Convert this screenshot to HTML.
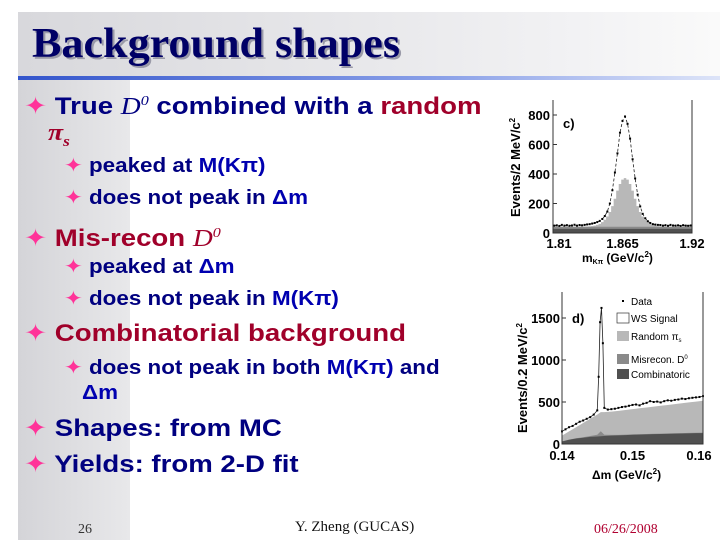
<!DOCTYPE html>
<html><head><meta charset="utf-8"><style>
body{margin:0;width:720px;height:540px;overflow:hidden;background:#fff;position:relative;font-family:"Liberation Sans",sans-serif}
.l{position:absolute;white-space:nowrap;font-weight:bold;color:#000080;transform-origin:0 50%}
.b1{font-size:24px;line-height:26px;transform:scaleX(1.15)}
.b2{font-size:20px;line-height:22px;transform:scaleX(1.12)}
.st{color:#ff3399;font-weight:normal}
.r{color:#a0002a}
.bl{color:#0000b0}
.ser{font-family:"Liberation Serif",serif;font-style:italic;font-weight:normal}
</style></head><body>
<div style="position:absolute;left:18px;top:12px;width:112px;height:528px;background:linear-gradient(90deg,#d4d4d8,#e8e8ea)"></div>
<div style="position:absolute;left:18px;top:12px;width:702px;height:64px;background:linear-gradient(90deg,#d8d8dc,#f2f2f4 80%,#fafafa)"></div>
<div style="position:absolute;left:18px;top:76px;width:702px;height:4px;background:linear-gradient(90deg,#3355cc,#8aa0e8 60%,#dde4f8)"></div>
<div class="l" style="left:32px;top:20px;font-family:'Liberation Serif',serif;font-size:42px;line-height:48px;color:#000066;text-shadow:2px 2px 0 #9a9aa8;transform:scaleX(1.05)">Background shapes</div>

<div class="l b1" style="left:24px;top:89px"><span class="st">✦</span> True <span class="ser">D<sup style="font-size:14px">0</sup></span> combined with a <span class="r">random</span></div>
<div class="l b1 r" style="left:48px;top:120px"><span class="ser" style="font-weight:bold">π<sub style="font-size:15px">s</sub></span></div>
<div class="l b2" style="left:64px;top:155px"><span class="st">✦</span> peaked at <span class="bl">M(Kπ)</span></div>
<div class="l b2" style="left:64px;top:187px"><span class="st">✦</span> does not peak in <span class="bl">Δm</span></div>
<div class="l b1 r" style="left:24px;top:221px"><span class="st">✦</span> Mis-recon <span class="ser">D<sup style="font-size:14px">0</sup></span></div>
<div class="l b2" style="left:64px;top:256px"><span class="st">✦</span> peaked at <span class="bl">Δm</span></div>
<div class="l b2" style="left:64px;top:288px"><span class="st">✦</span> does not peak in <span class="bl">M(Kπ)</span></div>
<div class="l b1 r" style="left:24px;top:321px"><span class="st">✦</span> Combinatorial background</div>
<div class="l b2" style="left:64px;top:357px"><span class="st">✦</span> does not peak in both <span class="bl">M(Kπ)</span> and</div>
<div class="l b2 bl" style="left:82px;top:382px">Δm</div>
<div class="l b1" style="left:24px;top:416px"><span class="st">✦</span> Shapes: from MC</div>
<div class="l b1" style="left:24px;top:452px"><span class="st">✦</span> Yields: from 2-D fit</div>

<div class="l" style="left:78px;top:522px;font-family:'Liberation Serif',serif;font-weight:normal;font-size:14px;color:#333">26</div>
<div class="l" style="left:295px;top:519px;font-family:'Liberation Serif',serif;font-weight:normal;font-size:15px;color:#111">Y. Zheng (GUCAS)</div>
<div class="l" style="left:594px;top:522px;font-family:'Liberation Serif',serif;font-weight:normal;font-size:14px;color:#b00030">06/26/2008</div>

<svg id="svg" width="720" height="540" style="position:absolute;left:0;top:0"></svg>
<script>
// Chart c: M(Kpi), 2 MeV bins
const cBinStart = 1.81, cBinWidth = 0.002;
const cCombo = [28,28,28,28,28,28,28,28,28,28,28,28,28,28,28,28,28,28,28,28,28,28,28,28,28,28,28,28,28,28,28,28,28,28,28,28,28,28,28,28,28,28,28,28,28,28,28,28,28,28,28,28,28,28,28];
const cMis = [14,14,14,14,14,14,14,14,14,14,14,14,14,14,14,14,14,14,14,14,14,14,14,14,14,14,14,14,14,14,14,14,14,14,14,14,14,14,14,14,14,14,14,14,14,14,14,14,14,14,14,14,14,14,14];
const cRand = [1,1,1,1,1,1,1,1,1,1,1,1,1,2,3,5,8,13,20,32,48,70,100,140,190,245,290,320,330,320,290,245,190,140,100,70,48,32,20,13,8,5,3,2,1,1,1,1,1,1,1,1,1,1,1];
const cData = [50,52,48,55,50,53,49,51,56,50,54,52,55,58,60,64,68,74,82,95,115,145,200,290,410,540,680,760,790,740,640,500,370,260,180,130,100,80,68,60,57,55,54,50,53,49,55,51,50,52,48,53,50,49,51];
const cYTicks = [0,200,400,600,800];
const cXTicks = ["1.81","1.865","1.92"];
// Chart d: delta m
const dX = [0.140,0.141,0.142,0.143,0.144,0.145,0.1455,0.146,0.147,0.148,0.149,0.150,0.151,0.152,0.153,0.154,0.155,0.156,0.157,0.158,0.159,0.160];
const dCombo = [30,50,65,75,85,90,92,95,100,103,106,110,112,114,117,119,121,123,125,127,129,130];
const dMis = [0,2,4,6,10,20,60,15,8,6,5,5,5,5,5,5,5,5,5,5,5,5];
const dRand = [100,150,200,250,300,350,380,380,385,395,405,415,425,435,445,455,465,475,485,495,505,515];
const dDataX = [0.1400,0.1405,0.1410,0.1415,0.1420,0.1425,0.1430,0.1435,0.1440,0.1445,0.1450,0.1452,0.1454,0.1456,0.1458,0.1460,0.1465,0.1470,0.1475,0.1480,0.1485,0.1490,0.1495,0.1500,0.1505,0.1510,0.1515,0.1520,0.1525,0.1530,0.1535,0.1540,0.1545,0.1550,0.1555,0.1560,0.1565,0.1570,0.1575,0.1580,0.1585,0.1590,0.1595,0.1600];
const dData = [150,175,200,215,240,265,280,300,320,350,400,800,1450,1620,1200,430,410,415,420,430,440,445,455,465,470,460,480,490,510,500,505,495,510,520,515,525,530,540,535,545,550,555,560,570];
const dYTicks = [0,500,1000,1500];
const dXTicks = ["0.14","0.15","0.16"];
const dLegend = ["Data","WS Signal","Random π","Misrecon. D","Combinatoric"];

const NS="http://www.w3.org/2000/svg", svg=document.getElementById('svg');
function mk(t,a,p){const e=document.createElementNS(NS,t);for(const k in a)e.setAttribute(k,a[k]);(p||svg).appendChild(e);return e;}
// ---- chart c
const c={x0:553,x1:692,y0:233,y1:100};
const cx=v=>c.x0+(v-1.81)/(1.92-1.81)*(c.x1-c.x0);
const cy=v=>c.y0-v*(118/800);
const gc=mk('g',{});
function stackPath(arr,base){let d='';for(let i=0;i<arr.length;i++){const xa=cx(cBinStart+i*cBinWidth),xb=cx(cBinStart+(i+1)*cBinWidth);const v=Math.min(arr[i]+base[i],900);d+=(i?'L':'M')+xa+','+cy(v)+'L'+xb+','+cy(v);}return d+'L'+c.x1+','+c.y0+'L'+c.x0+','+c.y0+'Z';}
const zero=cCombo.map(()=>0);
const s2=cCombo.map((v,i)=>v+cMis[i]);
let e;
e=mk('path',{d:stackPath(cRand,s2),fill:'#b8b8b8'},gc);
e=mk('path',{d:stackPath(cMis,cCombo),fill:'#8a8a8a'},gc);
e=mk('path',{d:stackPath(cCombo,zero),fill:'#505050'},gc);
let pl=cData.map((v,i)=>cx(cBinStart+(i+.5)*cBinWidth)+','+cy(v)).join(' ');
e=mk('polyline',{points:pl,fill:'none',stroke:'#222','stroke-width':0.8,'stroke-dasharray':'3,2'},gc);
cData.forEach((v,i)=>{const p=mk('rect',{x:cx(cBinStart+(i+.5)*cBinWidth)-1,y:cy(v)-1,width:2,height:2,fill:'#000'},gc);});
e=mk('path',{d:`M${c.x0},${c.y1}V${c.y0}H${c.x1}V${c.y1}`,fill:'none',stroke:'#333','stroke-width':1},gc);
cYTicks.forEach(v=>{const t=mk('text',{x:c.x0-3,y:cy(v)+5,'text-anchor':'end','font-size':13,'font-weight':'bold','font-family':'Liberation Sans'},gc);t.textContent=v;mk('line',{x1:c.x0,x2:c.x0+4,y1:cy(v),y2:cy(v),stroke:'#333'},gc);});
[1.81,1.865,1.92].forEach((v,i)=>{const t=mk('text',{x:cx(v)+(i==0?6:0),y:c.y0+15,'text-anchor':'middle','font-size':13,'font-weight':'bold','font-family':'Liberation Sans'},gc);t.textContent=cXTicks[i];});
e=mk('text',{x:582,y:262,'font-size':12,'font-weight':'bold','font-family':'Liberation Sans'},gc);e.innerHTML='m<tspan font-size="7" dy="2">Kπ</tspan><tspan dy="-2"> (GeV/c</tspan><tspan font-size="8" dy="-5">2</tspan><tspan dy="5">)</tspan>';
e=mk('text',{x:0,y:0,transform:'translate(520,217) rotate(-90)','font-size':13,'font-weight':'bold','font-family':'Liberation Sans'},gc);e.innerHTML='Events/2 MeV/c<tspan font-size="8" dy="-5">2</tspan>';
e=mk('text',{x:563,y:128,'font-size':13,'font-weight':'bold','font-family':'Liberation Sans'},gc);e.textContent='c)';
// ---- chart d
const d={x0:562,x1:703,y0:444,y1:292};
const dx=v=>d.x0+(v-0.14)/0.02*(d.x1-d.x0);
const dy=v=>d.y0-v*(126/1500);
const gd=mk('g',{});
function area(top,bot){let s='M'+dX.map((x,i)=>dx(x)+','+dy(top[i])).join('L');for(let i=dX.length-1;i>=0;i--)s+='L'+dx(dX[i])+','+dy(bot[i]);return s+'Z';}
const dz=dX.map(()=>0), dCM=dCombo.map((v,i)=>v+dMis[i]);
e=mk('path',{d:area(dRand,dz),fill:'#b8b8b8'},gd);
e=mk('path',{d:area(dCM,dz),fill:'#8a8a8a'},gd);
e=mk('path',{d:area(dCombo,dz),fill:'#505050'},gd);
e=mk('polyline',{points:dDataX.map((x,i)=>dx(x)+','+dy(dData[i])).join(' '),fill:'none',stroke:'#222','stroke-width':0.8},gd);
dDataX.forEach((x,i)=>{const p=mk('rect',{x:dx(x)-1,y:dy(dData[i])-1,width:2,height:2,fill:'#000'},gd);});
e=mk('path',{d:`M${d.x0},${d.y1}V${d.y0}H${d.x1}V${d.y1}`,fill:'none',stroke:'#333'},gd);
dYTicks.forEach(v=>{const t=mk('text',{x:d.x0-2,y:dy(v)+5,'text-anchor':'end','font-size':13,'font-weight':'bold','font-family':'Liberation Sans'},gd);t.textContent=v;mk('line',{x1:d.x0,x2:d.x0+4,y1:dy(v),y2:dy(v),stroke:'#333'},gd);});
[0.14,0.15,0.16].forEach((v,i)=>{const t=mk('text',{x:dx(v)+(i==2?-4:0),y:d.y0+16,'text-anchor':'middle','font-size':13,'font-weight':'bold','font-family':'Liberation Sans'},gd);t.textContent=dXTicks[i];});
e=mk('text',{x:592,y:479,'font-size':12,'font-weight':'bold','font-family':'Liberation Sans'},gd);e.innerHTML='Δm (GeV/c<tspan font-size="8" dy="-5">2</tspan><tspan dy="5">)</tspan>';
e=mk('text',{x:0,y:0,transform:'translate(527,433) rotate(-90)','font-size':13,'font-weight':'bold','font-family':'Liberation Sans'},gd);e.innerHTML='Events/0.2 MeV/c<tspan font-size="8" dy="-5">2</tspan>';
e=mk('text',{x:572,y:323,'font-size':13,'font-weight':'bold','font-family':'Liberation Sans'},gd);e.textContent='d)';
const legY=[301,318,336,359,374], legFill=[null,'#fff','#b8b8b8','#8a8a8a','#505050'];
dLegend.forEach((s,i)=>{
 if(i==0){const p=mk('rect',{x:622,y:legY[i]-1,width:2,height:2,fill:'#000'},gd);}
 else{const p=mk('rect',{x:617,y:legY[i]-5,width:12,height:10,fill:legFill[i],stroke:i==1?'#333':'none','stroke-width':0.7},gd);}
 const t=mk('text',{x:631,y:legY[i]+4,'font-size':10,'font-family':'Liberation Sans'},gd);t.textContent=s;
 if(i==2){mk('tspan',{'font-size':6,dy:2},t).textContent='s';}
 if(i==3){mk('tspan',{'font-size':6,dy:-4},t).textContent='0';}
 
});
</script>
</body></html>
